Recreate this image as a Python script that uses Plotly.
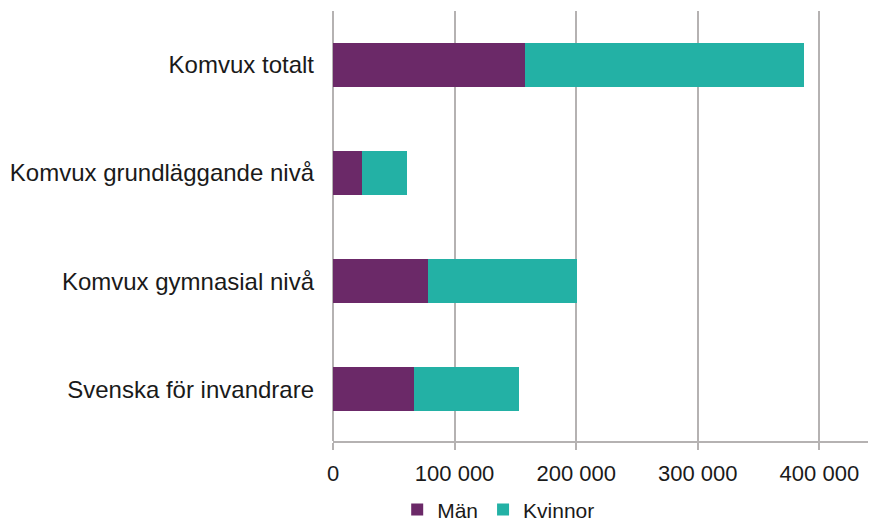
import plotly.graph_objects as go

categories = ["Komvux totalt", "Komvux grundläggande nivå", "Komvux gymnasial nivå", "Svenska för invandrare"]
man = [158300, 24200, 78200, 66700]
kvinnor = [229100, 37000, 122600, 86400]
tick_values = [0, 100000, 200000, 300000, 400000]

grid = "#b5b2b2"

fig = go.Figure()
fig.add_trace(go.Bar(y=categories, x=man, name="Män", orientation="h",
                     marker=dict(color="#6b2968", line=dict(width=0))))
fig.add_trace(go.Bar(y=categories, x=kvinnor, name="Kvinnor", orientation="h",
                     marker=dict(color="#23b1a5", line=dict(width=0))))

fig.update_layout(
    barmode="stack",
    bargap=0.59,
    width=870, height=530,
    margin=dict(l=333, r=2, t=11, b=89, autoexpand=False),
    plot_bgcolor="white", paper_bgcolor="white",
    separators=", ",
    font=dict(family="Liberation Sans, Arial, sans-serif", size=22, color="#1a1a1a"),
    legend=dict(orientation="h", x=0.12, xanchor="left", y=-0.16, yanchor="middle",
                font=dict(size=21), traceorder="normal"),
    xaxis=dict(range=[0, 440000], tickvals=tick_values,
               tickformat=",d", showgrid=True, gridcolor=grid, gridwidth=2,
               zeroline=True, zerolinecolor=grid, zerolinewidth=2,
               showline=True, linecolor=grid, linewidth=2,
               ticks="outside", ticklen=7, tickwidth=2, tickcolor=grid,
               ticklabelstandoff=5, automargin=False),
    yaxis=dict(range=[3.48, -0.5], showgrid=False, zeroline=False, ticks="",
               ticklabelstandoff=18, tickfont=dict(size=24), automargin=False),
)

fig.write_html("out.html", config={"displayModeBar": False},
               post_script="document.body.style.margin='0';")
